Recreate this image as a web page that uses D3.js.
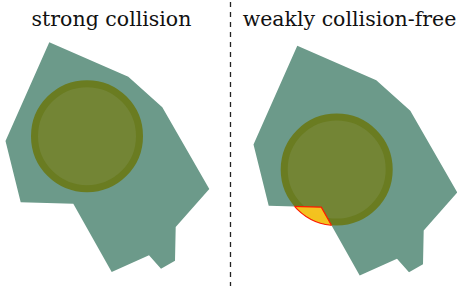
<!DOCTYPE html>
<html>
<head>
<meta charset="utf-8">
<script src="https://cdn.jsdelivr.net/npm/d3@7"></script>
<style>
  body { margin: 0; background: #fff; }
  svg { display: block; }
</style>
</head>
<body>
<svg id="fig" width="457" height="286"></svg>
<script>
// panels
const titles = ['strong collision', 'weakly collision-free']
const titleX = [111.5, 349.5]
const panelDx = [0, 248]
const panelDy = [0, 3.5]

// obstacle outline (same shape in both panels)
const polyX = [49.3, 128.3, 162.3, 209.3, 175.7, 175, 161, 149, 111.7, 73.3, 20.7, 5.5]
const polyY = [42.3, 76.7, 107.3, 189, 227, 260.7, 268.7, 255.3, 272, 203.7, 202.3, 141]

// robot disc per panel
const discX = [87, 88.7]
const discY = [136.2, 166]
const discR = 56

const width = 457
const height = 286
const svg = d3.select('#fig')
const defs = svg.append('defs')

titles.forEach((title, i) => {
  let x = d3.scaleLinear().domain([0, 230]).range([panelDx[i], panelDx[i] + 230])
  let y = d3.scaleLinear().domain([0, 286]).range([panelDy[i], panelDy[i] + 286])
  let r = d3.scaleLinear().domain([0, 230]).range([0, 230])

  let pts = polyX.map((px, k) => [x(px), y(polyY[k])])
  let polyPath = 'M' + pts.map(p => p.join(',')).join('L') + 'Z'

  let g = svg.append('g')

  g.append('path')
    .attr('d', polyPath)
    .attr('fill', '#6c9a8a')

  let cx = x(discX[i])
  let cy = y(discY[i])
  let rr = r(discR)

  g.append('circle')
    .attr('cx', cx)
    .attr('cy', cy)
    .attr('r', rr - 3.5)
    .attr('fill', '#738535')
    .attr('stroke', '#6a7c21')
    .attr('stroke-width', 7)

  if (i === 1) {
    // part of the disc sticking out of the obstacle
    defs.append('clipPath').attr('id', 'outside')
      .append('path')
      .attr('clip-rule', 'evenodd')
      .attr('d', `M0,0H${width}V${height}H0Z` + polyPath)
    defs.append('clipPath').attr('id', 'disc')
      .append('circle')
      .attr('cx', cx).attr('cy', cy).attr('r', rr)

    g.append('circle')
      .attr('cx', cx).attr('cy', cy).attr('r', rr)
      .attr('clip-path', 'url(#outside)')
      .attr('fill', '#ffc81e')
      .attr('fill-opacity', 0.92)
      .attr('stroke', '#ff1a00')
      .attr('stroke-width', 1.2)
    g.append('path')
      .attr('d', polyPath)
      .attr('clip-path', 'url(#disc)')
      .attr('fill', 'none')
      .attr('stroke', '#ff1a00')
      .attr('stroke-width', 1.2)
  }

  svg.append('text')
    .attr('x', titleX[i])
    .attr('y', 25.7)
    .attr('text-anchor', 'middle')
    .style('font-family', "'DejaVu Serif', 'Liberation Serif', serif")
    .attr('font-size', 20.5)
    .attr('fill', '#111')
    .text(title)
})

// divider
svg.append('line')
  .attr('x1', 230.5).attr('x2', 230.5)
  .attr('y1', 0).attr('y2', height)
  .attr('stroke', '#222')
  .attr('stroke-width', 1.3)
  .attr('stroke-dasharray', '5,5')
  .attr('stroke-dashoffset', 8)
</script>
</body>
</html>
